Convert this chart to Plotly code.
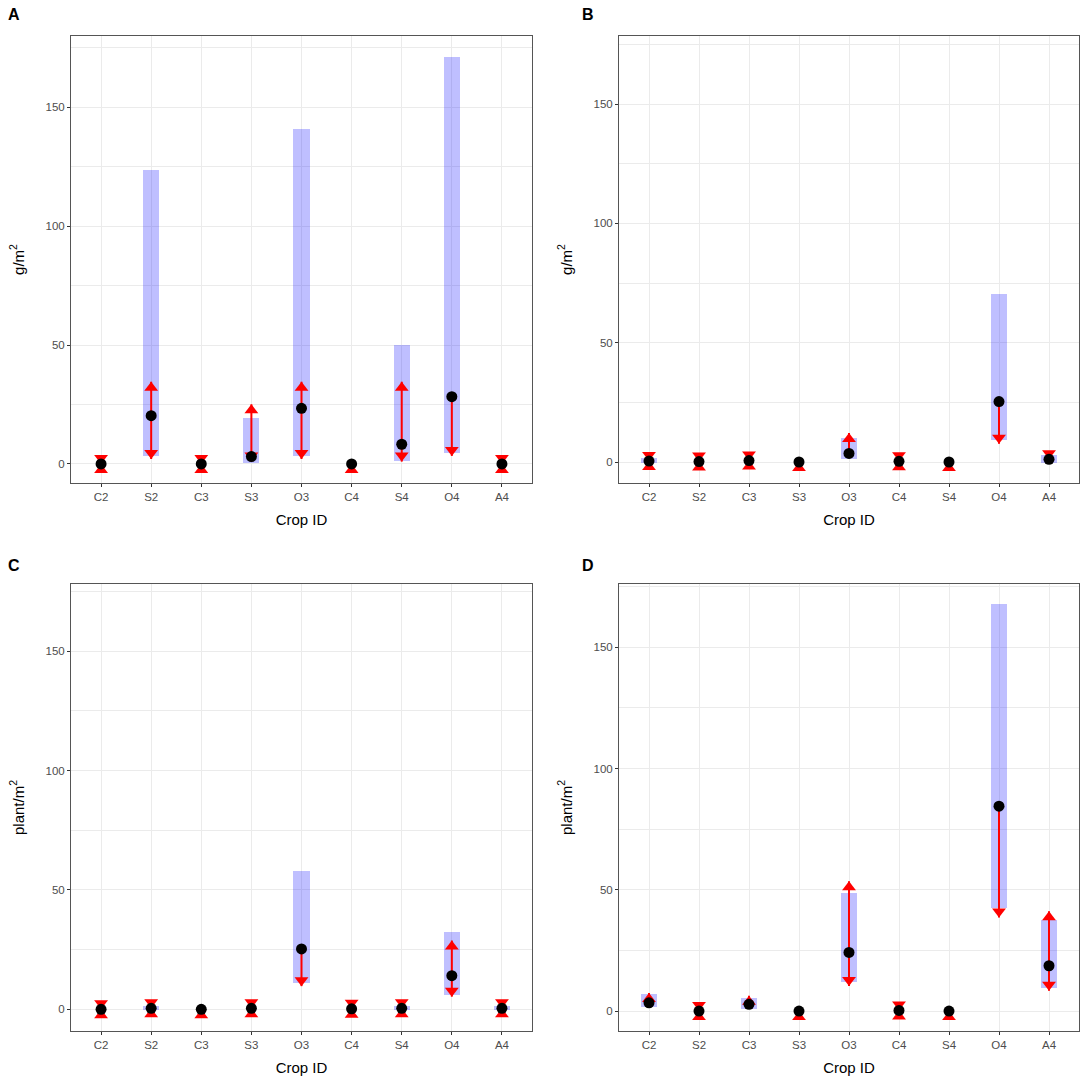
import plotly.graph_objects as go

crops = ["C2", "S2", "C3", "S3", "O3", "C4", "S4", "O4", "A4"]
panel_names = ["A", "B", "C", "D"]
y_titles = ["g/m<sup>2</sup>", "g/m<sup>2</sup>", "plant/m<sup>2</sup>", "plant/m<sup>2</sup>"]

# black point (estimate), red arrow ends (None = no arrow on that side),
# blue band low/high
a_pt = [0, 20.3, 0, 3.1, 23.4, 0, 8.3, 28.3, 0]
a_lo = [0, 2.1, 0, 1.0, 2.1, 0, 1.0, 3.4, 0]
a_hi = [0, 34.6, 0, 25.1, 34.6, None, 34.6, None, 0]
a_band_lo = [0, 3.4, 0, 0.3, 3.4, 0, 1.3, 4.5, 0]
a_band_hi = [0, 123.5, 0, 19.2, 140.8, 0, 50.2, 171.2, 0]

b_pt = [0.4, 0.2, 0.6, 0, 3.6, 0.3, 0, 25.3, 1.1]
b_lo = [0.4, 0.2, 0.6, 0, None, 0.3, 0, 7.6, None]
b_hi = [0.4, 0.2, 0.6, None, 12.2, 0.3, None, None, 1.1]
b_band_lo = [-0.5, 0, 0, 0, 1.3, 0, 0, 9.2, -0.3]
b_band_hi = [1.5, 0, 0, 0, 10.0, 0, 0, 70.2, 2.8]

c_pt = [0, 0.4, 0, 0.4, 25.3, 0.2, 0.4, 14.1, 0.4]
c_lo = [0, 0.4, 0, 0.4, 9.7, 0.2, 0.4, 5.3, 0.4]
c_hi = [0, 0.4, None, 0.4, None, 0.2, 0.4, 28.8, 0.4]
c_band_lo = [0, -0.5, 0, 0, 11.1, 0, -0.5, 6.0, -0.5]
c_band_hi = [0, 1.5, 0, 0, 57.8, 0, 1.5, 32.5, 1.5]

d_pt = [3.4, 0, 2.8, 0, 24.2, 0.3, 0, 84.5, 18.7]
d_lo = [None, 0, None, 0, 10.4, 0.3, 0, 38.6, 8.4]
d_hi = [7.5, 0, 6.3, None, 53.5, 0.3, None, None, 41.2]
d_band_lo = [1.8, 0, 0.8, 0, 12.1, 0, 0, 42.4, 9.6]
d_band_hi = [6.9, 0, 5.5, 0, 48.5, 0, 0, 167.7, 37.5]

panels = [
    (a_pt, a_lo, a_hi, a_band_lo, a_band_hi),
    (b_pt, b_lo, b_hi, b_band_lo, b_band_hi),
    (c_pt, c_lo, c_hi, c_band_lo, c_band_hi),
    (d_pt, d_lo, d_hi, d_band_lo, d_band_hi),
]
y_ranges = [[-8.0, 180.0], [-8.8, 178.5], [-9.1, 178.2], [-8.2, 176.1]]

W = 1084
# panel boxes in pixels: left, right, top, bottom
boxes = [(71, 532, 36, 483), (619, 1079, 36, 483),
         (71, 532, 584, 1031), (619, 1079, 584, 1031)]
label_pos = [(14, 14), (588, 14), (14, 565), (588, 565)]

HEAD = 12
font = "Liberation Sans, Arial, sans-serif"

fig = go.Figure()

for i, (pt, lo, hi, blo, bhi) in enumerate(panels):
    xa = "x" if i == 0 else "x%d" % (i + 1)
    ya = "y" if i == 0 else "y%d" % (i + 1)

    fig.add_trace(go.Bar(
        x=crops, base=blo, y=[h - l for l, h in zip(blo, bhi)],
        width=0.32, marker=dict(color="rgba(0,0,255,0.25)", line=dict(width=0)),
        xaxis=xa, yaxis=ya, showlegend=False, hoverinfo="skip"))

    # arrow shafts
    lx, ly = [], []
    for c, p, l, h in zip(crops, pt, lo, hi):
        y0 = p if l is None else l
        y1 = p if h is None else h
        if y1 > y0:
            lx += [c, c, None]
            ly += [y0, y1, None]
    fig.add_trace(go.Scatter(
        x=lx, y=ly, mode="lines", line=dict(color="red", width=2),
        xaxis=xa, yaxis=ya, showlegend=False, hoverinfo="skip"))

    # arrow heads (tip on the end value; zero length arrows point back at the point)
    hx, hy, ang = [], [], []
    for c, p, l, h in zip(crops, pt, lo, hi):
        if h is not None:
            hx.append(c); hy.append(h); ang.append(0 if h > p else 180)
        if l is not None:
            hx.append(c); hy.append(l); ang.append(180 if l < p else 0)
    fig.add_trace(go.Scatter(
        x=hx, y=hy, mode="markers",
        marker=dict(symbol="triangle-up", size=HEAD, color="red", angle=ang,
                    standoff=HEAD / 2, line=dict(width=0)),
        xaxis=xa, yaxis=ya, showlegend=False, hoverinfo="skip"))

    fig.add_trace(go.Scatter(
        x=crops, y=pt, mode="markers",
        marker=dict(size=11, color="black", line=dict(width=0)),
        xaxis=xa, yaxis=ya, showlegend=False))

    left, right, top, bottom = boxes[i]
    axis_common = dict(
        showline=True, mirror=True, linecolor="#555555", linewidth=1,
        ticks="outside", ticklen=3, tickcolor="#333333", tickwidth=1,
        gridcolor="#EBEBEB", gridwidth=1.1, zeroline=False,
        tickfont=dict(family=font, size=11.5, color="#4D4D4D"),
    )
    fig.layout[xa.replace("x", "xaxis")] = dict(
        axis_common, domain=[left / W, right / W], anchor=ya,
        type="category", categoryorder="array", categoryarray=crops,
        range=[-0.6, 8.6],
        title=dict(text="Crop ID", font=dict(family=font, size=15, color="black"),
                   standoff=12))
    fig.layout[ya.replace("y", "yaxis")] = dict(
        axis_common, domain=[1 - bottom / W, 1 - top / W], anchor=xa,
        range=y_ranges[i], tickvals=[0, 50, 100, 150],
        minor=dict(dtick=25, tick0=0, showgrid=True, gridcolor="#EBEBEB",
                   gridwidth=0.55, ticks=""),
        title=dict(text=y_titles[i], font=dict(family=font, size=15, color="black"),
                   standoff=17))

    fig.add_annotation(
        text="<b>%s</b>" % panel_names[i], xref="paper", yref="paper",
        x=label_pos[i][0] / W, y=1 - label_pos[i][1] / W,
        xanchor="center", yanchor="middle", showarrow=False,
        font=dict(family=font, size=16, color="black"))

fig.update_layout(
    width=W, height=W, margin=dict(l=0, r=0, t=0, b=0),
    paper_bgcolor="white", plot_bgcolor="white", bargap=0,
    font=dict(family=font),
)

# drop the default page margin so the figure fills the window
fig.write_html("out.html", config={"displayModeBar": False},
               post_script="document.body.style.margin = '0';")
